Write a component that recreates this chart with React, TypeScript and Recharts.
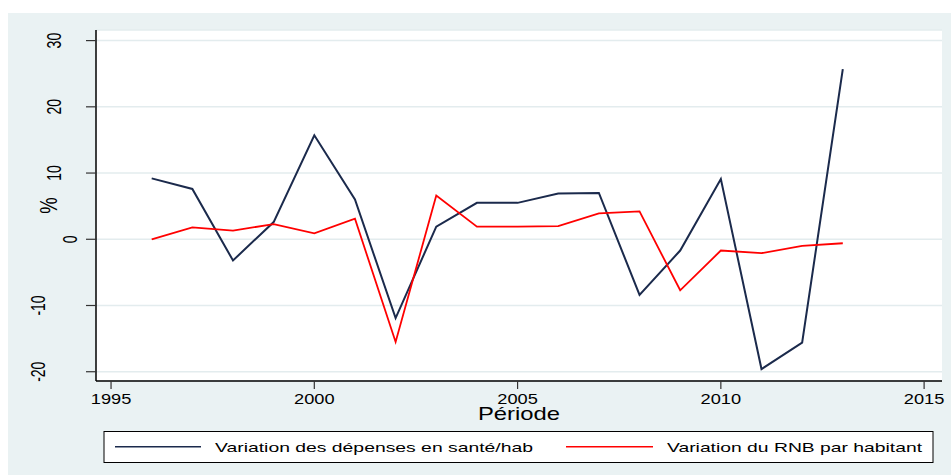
import React from 'react';
import { LineChart, Line, XAxis, YAxis, CartesianGrid } from 'recharts';

// --- Données ---
const annees = [1996, 1997, 1998, 1999, 2000, 2001, 2002, 2003, 2004, 2005, 2006, 2007, 2008, 2009, 2010, 2011, 2012, 2013];
const depensesSante = [9.2, 7.6, -3.2, 2.6, 15.7, 6.0, -11.9, 1.9, 5.5, 5.5, 6.9, 7.0, -8.4, -1.7, 9.1, -19.6, -15.6, 25.7];
const rnbParHabitant = [0.0, 1.8, 1.3, 2.3, 0.9, 3.1, -15.5, 6.6, 1.9, 1.9, 2.0, 3.9, 4.2, -7.7, -1.7, -2.1, -1.0, -0.6];
const xTicks = [1995, 2000, 2005, 2010, 2015];
const yTicks = [-20, -10, 0, 10, 20, 30];

const series = [
  { key: 'sante', name: 'Variation des dépenses en santé/hab', color: '#1b2a4c' },
  { key: 'rnb', name: 'Variation du RNB par habitant', color: '#ff0000' },
];

const data = annees.map((year, i) => ({ year, sante: depensesSante[i], rnb: rnbParHabitant[i] }));

const FONT = '"Liberation Sans", Arial, sans-serif';
const BG = '#eaf2f3';

// --- Ticks ---
const XTick = ({ x, payload }: any) => (
  <text x={x} y={404} textAnchor="middle" fontFamily={FONT} fontSize={14} fill="#000"
    textLength={40.6} lengthAdjust="spacingAndGlyphs">
    {payload.value}
  </text>
);

const YTick = ({ y, payload }: any) => {
  const label = String(payload.value);
  const bx = 93 - 16 * label.length;
  return (
    <text transform={`translate(${bx},${y}) scale(1.4,1) rotate(-90)`} textAnchor="middle"
      fontFamily={FONT} fontSize={14} fill="#000">
      {label}
    </text>
  );
};

const XLabel = ({ viewBox }: any) => (
  <text x={viewBox.x + viewBox.width / 2} y={420} textAnchor="middle" fontFamily={FONT} fontSize={18.5}
    fill="#000" textLength={82} lengthAdjust="spacingAndGlyphs">
    Période
  </text>
);

const YLabel = ({ viewBox }: any) => (
  <text transform={`translate(57,${viewBox.y + viewBox.height / 2}) scale(1.3,1) rotate(-90)`}
    textAnchor="middle" fontFamily={FONT} fontSize={18.5} fill="#000">
    %
  </text>
);

// --- Légende ---
const legendPos = [
  { x1: 115, x2: 201, tx: 215, tl: 318 },
  { x1: 566, x2: 653, tx: 667, tl: 255 },
];

function Legende() {
  return (
    <svg width={951} height={475} style={{ position: 'absolute', left: 0, top: 0, pointerEvents: 'none' }}>
      <rect x={104} y={431.5} width={829} height={31} fill="#fff" stroke="#000" strokeWidth={1} />
      {series.map((s, i) => (
        <g key={s.key}>
          <line x1={legendPos[i].x1} x2={legendPos[i].x2} y1={446.7} y2={446.7} stroke={s.color} strokeWidth={1.6} />
          <text x={legendPos[i].tx} y={452.3} fontFamily={FONT} fontSize={13.5} fill="#000"
            textLength={legendPos[i].tl} lengthAdjust="spacingAndGlyphs">
            {s.name}
          </text>
        </g>
      ))}
    </svg>
  );
}

export default function App() {
  return (
    <div style={{ position: 'absolute', left: 0, top: 0, width: 951, height: 475, background: '#fff' }}>
      <div style={{ position: 'absolute', left: 8, top: 13, right: 0, bottom: 0, background: BG }} />
      <div style={{ position: 'absolute', left: 0, top: 0 }}>
        <LineChart width={951} height={475} data={data} margin={{ top: 30, right: 9, bottom: 64, left: 0 }}>
          <CartesianGrid vertical={false} fill="#fff" stroke="#e3ecee" strokeWidth={1.5} />
          <XAxis
            dataKey="year"
            type="number"
            domain={[1994.63, 2015.44]}
            ticks={xTicks}
            allowDataOverflow
            height={30}
            tickSize={8}
            tickLine={{ stroke: '#333', strokeWidth: 1.2 }}
            axisLine={{ stroke: '#000', strokeWidth: 1.5 }}
            tick={<XTick />}
            label={<XLabel />}
          />
          <YAxis
            type="number"
            domain={[-21.4, 31.6]}
            ticks={yTicks}
            allowDataOverflow
            width={96}
            tickSize={10}
            tickLine={{ stroke: '#333', strokeWidth: 1.2 }}
            axisLine={{ stroke: '#000', strokeWidth: 1.5 }}
            tick={<YTick />}
            label={<YLabel />}
          />
          <Line type="linear" dataKey="sante" stroke={series[0].color} strokeWidth={2} dot={false} isAnimationActive={false} />
          <Line type="linear" dataKey="rnb" stroke={series[1].color} strokeWidth={1.8} dot={false} isAnimationActive={false} />
        </LineChart>
      </div>
      <Legende />
    </div>
  );
}
